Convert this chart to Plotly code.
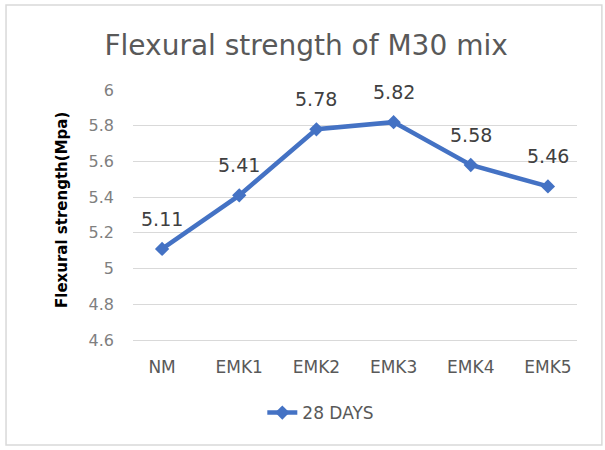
import plotly.graph_objects as go

categories = ["NM", "EMK1", "EMK2", "EMK3", "EMK4", "EMK5"]
strength_28_days = [5.11, 5.41, 5.78, 5.82, 5.58, 5.46]
series_name = "28 DAYS"
y_ticks = [4.6, 4.8, 5.0, 5.2, 5.4, 5.6, 5.8, 6.0]
y_tick_labels = ["4.6", "4.8", "5", "5.2", "5.4", "5.6", "5.8", "6"]

BLUE = "#4472C4"
FONT = "DejaVu Sans"

fig = go.Figure()
fig.add_trace(go.Scatter(
    x=categories, y=strength_28_days, name=series_name,
    mode="lines+markers",
    line=dict(color=BLUE, width=4.5),
    marker=dict(symbol="diamond", size=11, color=BLUE),
))

for c, v in zip(categories, strength_28_days):
    fig.add_annotation(x=c, y=v, text=f"{v:.2f}", showarrow=False,
                       yshift=30, font=dict(family=FONT, size=19, color="#404040"))

fig.add_annotation(xref="paper", yref="paper", x=-0.16, y=0.52,
                   xanchor="center", yanchor="middle",
                   text="<b>Flexural strength(Mpa)</b>", textangle=-90,
                   showarrow=False, font=dict(family=FONT, size=15, color="#000000"))

fig.add_shape(type="rect", xref="paper", yref="paper",
              x0=-0.286, x1=1.056, y0=-0.42, y1=1.34,
              line=dict(color="#d9d9d9", width=1.5), layer="below")

fig.update_layout(
    width=605, height=450,
    margin=dict(l=133, r=28, t=90, b=110),
    paper_bgcolor="white", plot_bgcolor="white",
    title=dict(text="Flexural strength of M30 mix", x=0.506, y=0.9,
               xref="container", yref="container", xanchor="center", yanchor="middle",
               font=dict(family=FONT, size=28, color="#595959")),
    showlegend=True,
    legend=dict(orientation="h", x=0.423, y=-0.292, xanchor="center", yanchor="middle",
                font=dict(family=FONT, size=17, color="#595959")),
    xaxis=dict(showgrid=False, showline=True, linecolor="#d9d9d9", linewidth=1,
               ticks="", ticklabelstandoff=12,
               tickfont=dict(family=FONT, size=17, color="#595959")),
    yaxis=dict(range=[4.6, 6.0], tickvals=y_ticks, ticktext=y_tick_labels,
               showgrid=True, gridcolor="#d9d9d9", gridwidth=1, zeroline=False,
               showline=False, ticks="", ticklabelstandoff=18,
               tickfont=dict(family=FONT, size=16, color="#7f7f7f")),
)

fig.write_html("out.html", config={"displayModeBar": False},
               post_script="document.body.style.margin='0';")
